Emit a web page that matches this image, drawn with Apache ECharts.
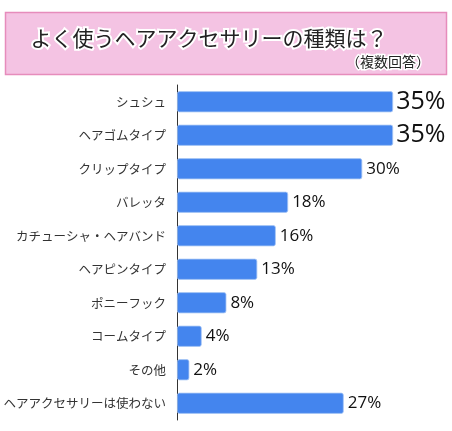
<!DOCTYPE html>
<html lang="ja">
<head>
<meta charset="UTF-8">
<title>ヘアアクセサリー</title>
<style>
html, body { margin: 0; padding: 0; width: 100%; height: 100%; background: #fff; }
#chart { width: 452px; height: 431px; }
</style>
</head>
<body>
<div id="chart"></div>
<script src="https://cdn.jsdelivr.net/npm/echarts@6/dist/echarts.min.js"></script>
<script>
var categories = ['シュシュ', 'ヘアゴムタイプ', 'クリップタイプ', 'バレッタ', 'カチューシャ・ヘアバンド',
  'ヘアピンタイプ', 'ポニーフック', 'コームタイプ', 'その他', 'ヘアアクセサリーは使わない'];
var values = [35, 35, 30, 18, 16, 13, 8, 4, 2, 27];
var bigLabels = [true, true, false, false, false, false, false, false, false, false];

var titleMain = 'よく使うヘアアクセサリーの種類は？';
var titleSub = '（複数回答）';

var font = '"Noto Sans CJK JP", sans-serif';

var chart = echarts.init(document.getElementById('chart'));

var seriesData = values.map(function (v, i) {
  var item = { value: v };
  if (bigLabels[i]) {
    item.label = { fontSize: 25, offset: [-1, 0] };
  }
  return item;
});

chart.setOption({
  animation: false,
  graphic: [
    {
      type: 'rect',
      shape: { x: 5.5, y: 12.5, width: 441, height: 62 },
      style: { fill: '#f4c3e3', stroke: '#e68cbc', lineWidth: 1.5 }
    },
    {
      type: 'text',
      x: 209, y: 38,
      style: {
        text: titleMain, fontFamily: font, fontSize: 21,
        fill: '#222', stroke: '#fff', lineWidth: 4,
        align: 'center', verticalAlign: 'middle'
      }
    },
    {
      type: 'text',
      x: 430, y: 62,
      style: {
        text: titleSub, fontFamily: font, fontSize: 14,
        fill: '#222', stroke: '#fff', lineWidth: 3,
        align: 'right', verticalAlign: 'middle'
      }
    }
  ],
  grid: { left: 177, right: 28, top: 85, bottom: 11, outerBoundsMode: 'none', containLabel: false },
  xAxis: {
    type: 'value', min: 0, max: 40,
    show: false
  },
  yAxis: {
    type: 'category',
    data: categories,
    inverse: true,
    axisLine: { show: true, lineStyle: { color: '#333', width: 1 } },
    axisTick: { show: false },
    axisLabel: { color: '#333', fontFamily: font, fontSize: 12.5, margin: 11 }
  },
  series: [{
    type: 'bar',
    data: seriesData,
    barCategoryGap: '37%',
    itemStyle: { color: '#4485ee', borderColor: '#a8c6f5', borderWidth: 0.8, borderRadius: 2 },
    label: {
      show: true, position: 'right', distance: 4,
      formatter: '{c}%', color: '#111',
      fontFamily: '"Open Sans", "DejaVu Sans", sans-serif', fontSize: 17, fontWeight: 500
    }
  }]
});
</script>
</body>
</html>
